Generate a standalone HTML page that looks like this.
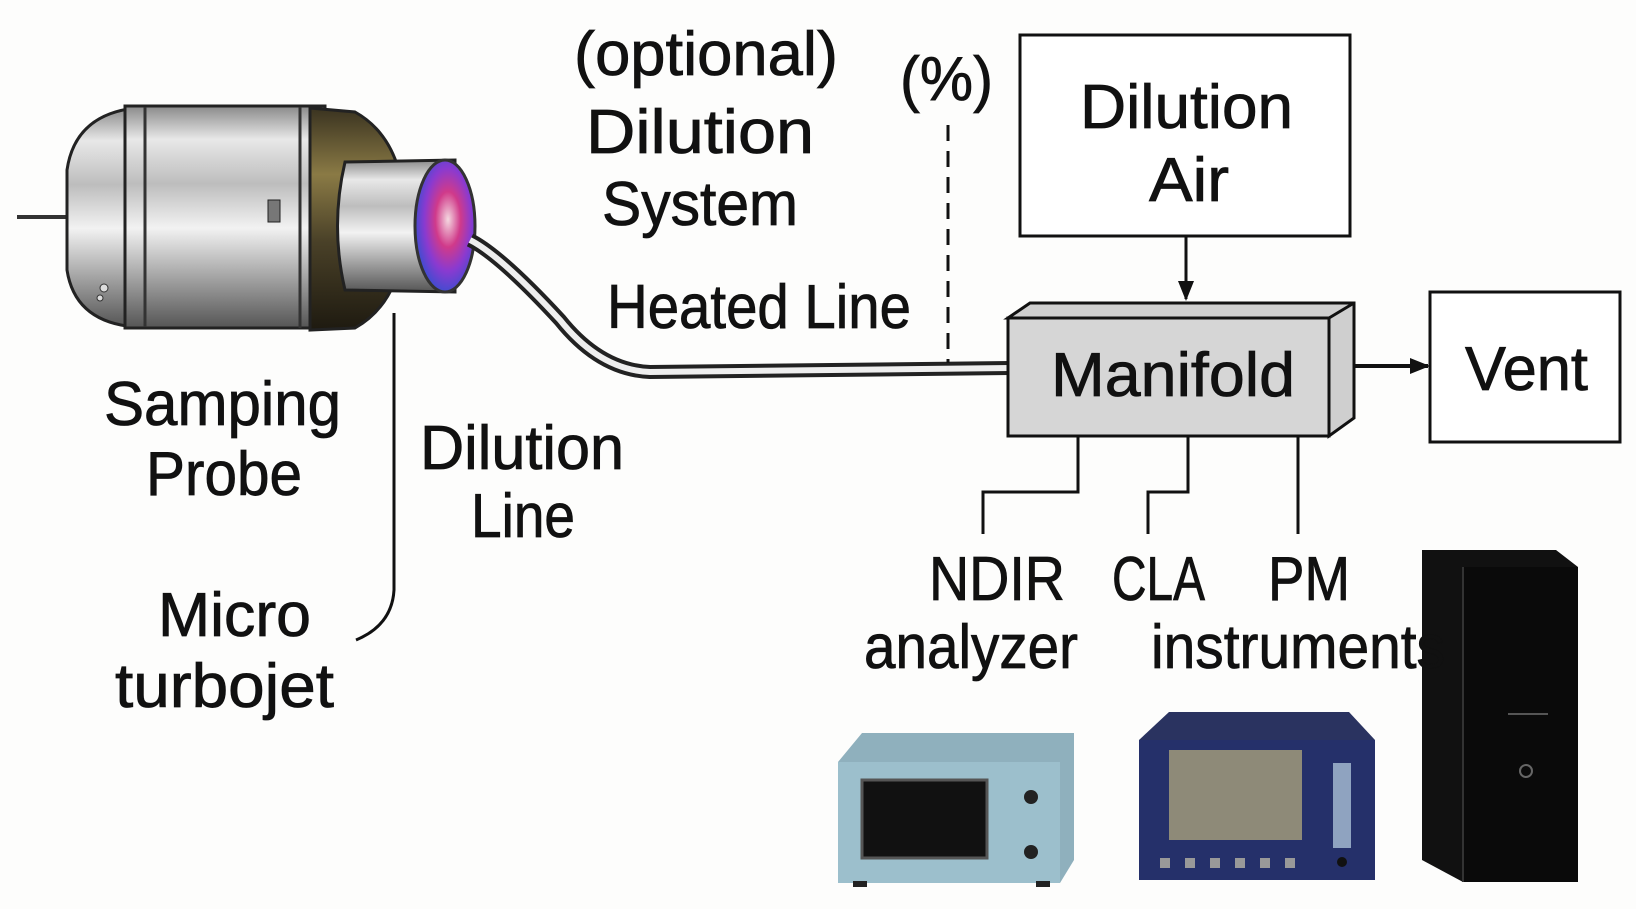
<!DOCTYPE html>
<html><head><meta charset="utf-8"><style>
html,body{margin:0;padding:0;background:#fdfdfc;}
svg{display:block;}
text{font-family:"Liberation Sans Narrow","Liberation Sans",sans-serif;font-size:62px;fill:#111;}
</style></head><body>
<svg width="1636" height="909" viewBox="0 0 1636 909" xmlns="http://www.w3.org/2000/svg">
<defs>
<linearGradient id="metal" x1="0" y1="0" x2="0" y2="1">
<stop offset="0" stop-color="#8a8a8a"/><stop offset="0.15" stop-color="#e8e8e8"/><stop offset="0.35" stop-color="#bdbdbd"/><stop offset="0.55" stop-color="#f2f2f2"/><stop offset="0.8" stop-color="#9a9a9a"/><stop offset="1" stop-color="#555"/>
</linearGradient>
<linearGradient id="gold" x1="0" y1="0" x2="0" y2="1">
<stop offset="0" stop-color="#3a3320"/><stop offset="0.3" stop-color="#8a7a45"/><stop offset="0.6" stop-color="#4a4128"/><stop offset="1" stop-color="#1e1a10"/>
</linearGradient>
<radialGradient id="flame" cx="0.55" cy="0.45" r="0.6">
<stop offset="0" stop-color="#f4d8e0"/><stop offset="0.35" stop-color="#d03a8a"/><stop offset="0.65" stop-color="#8a3ad0"/><stop offset="1" stop-color="#3050d0"/>
</radialGradient>
<marker id="ah" markerWidth="20" markerHeight="20" refX="18" refY="10" orient="auto" markerUnits="userSpaceOnUse"><path d="M0,2 L20,10 L0,18 Z" fill="#111"/></marker>
</defs>

<line x1="17" y1="217" x2="70" y2="217" stroke="#333" stroke-width="4"/>
<path d="M135,108 Q75,115 67,170 L67,270 Q75,322 135,327 Z" fill="url(#metal)" stroke="#222" stroke-width="3"/>
<rect x="125" y="106" width="200" height="222" fill="url(#metal)" stroke="#222" stroke-width="3"/>
<line x1="145" y1="107" x2="145" y2="327" stroke="#333" stroke-width="3"/>
<line x1="300" y1="107" x2="300" y2="328" stroke="#333" stroke-width="3"/>
<rect x="268" y="200" width="12" height="22" fill="#777" stroke="#222"/>
<path d="M310,108 L355,112 Q405,140 405,220 Q405,300 355,328 L310,330 Z" fill="url(#gold)" stroke="#222" stroke-width="3"/>
<path d="M345,162 L455,160 L455,292 L345,290 Q330,226 345,162 Z" fill="url(#metal)" stroke="#222" stroke-width="3"/>
<ellipse cx="445" cy="226" rx="30" ry="66" fill="url(#flame)" stroke="#333" stroke-width="3"/>
<circle cx="104" cy="288" r="4" fill="#ddd" stroke="#333"/>
<circle cx="100" cy="298" r="3" fill="#ddd" stroke="#333"/>

<path d="M470,240 Q500,255 560,320 Q600,370 650,372 L1010,368" fill="none" stroke="#222" stroke-width="14"/>
<path d="M470,240 Q500,255 560,320 Q600,370 650,372 L1010,368" fill="none" stroke="#eee" stroke-width="6"/>
<line x1="948" y1="125" x2="948" y2="363" stroke="#111" stroke-width="3" stroke-dasharray="16,10"/>

<path d="M394,313 L394,590 Q392,625 356,640" fill="none" stroke="#111" stroke-width="3"/>

<rect x="1020" y="35" width="330" height="201" fill="#fff" stroke="#111" stroke-width="3"/>
<line x1="1186" y1="236" x2="1186" y2="299" stroke="#111" stroke-width="3" marker-end="url(#ah)"/>

<path d="M1008,318 L1030,303 L1354,303 L1354,418 L1329,436 L1329,318 Z" fill="#cfcfcf" stroke="#111" stroke-width="3"/>
<rect x="1008" y="318" width="321" height="118" fill="#d6d6d6" stroke="#111" stroke-width="3"/>
<line x1="1329" y1="318" x2="1354" y2="303" stroke="#111" stroke-width="3"/>
<line x1="1354" y1="366" x2="1428" y2="366" stroke="#111" stroke-width="4" marker-end="url(#ah)"/>
<rect x="1430" y="292" width="190" height="150" fill="#fff" stroke="#111" stroke-width="3"/>

<polyline points="1078,436 1078,492 983,492 983,534" fill="none" stroke="#111" stroke-width="3"/>
<polyline points="1188,436 1188,492 1148,492 1148,534" fill="none" stroke="#111" stroke-width="3"/>
<line x1="1298" y1="436" x2="1298" y2="534" stroke="#111" stroke-width="3"/>

<path d="M838,762 L862,733 L1074,733 L1074,860 L1060,883 L1060,762 Z" fill="#8fb0bd"/>
<rect x="838" y="762" width="222" height="121" fill="#9cbfcc"/>
<rect x="862" y="780" width="125" height="78" fill="#111" stroke="#555" stroke-width="3"/>
<circle cx="1031" cy="797" r="7" fill="#222"/><circle cx="1031" cy="852" r="7" fill="#222"/>
<rect x="853" y="881" width="14" height="6" fill="#222"/><rect x="1036" y="881" width="14" height="6" fill="#222"/>

<path d="M1139,740 L1169,712 L1349,712 L1375,740 Z" fill="#2a3360"/>
<rect x="1139" y="740" width="236" height="140" fill="#25306a"/>
<rect x="1169" y="750" width="133" height="90" fill="#8e8a78"/>
<rect x="1333" y="763" width="18" height="85" fill="#8fa3c0"/>
<g fill="#999"><rect x="1160" y="858" width="10" height="10"/><rect x="1185" y="858" width="10" height="10"/><rect x="1210" y="858" width="10" height="10"/><rect x="1235" y="858" width="10" height="10"/><rect x="1260" y="858" width="10" height="10"/><rect x="1285" y="858" width="10" height="10"/></g>
<circle cx="1342" cy="862" r="5" fill="#111"/>

<path d="M1422,550 L1556,550 L1578,567 L1578,882 L1463,882 L1422,860 Z" fill="#111"/>
<rect x="1463" y="567" width="115" height="315" fill="#0a0a0a"/>
<line x1="1463" y1="567" x2="1463" y2="882" stroke="#333" stroke-width="2"/>
<circle cx="1526" cy="771" r="6" fill="none" stroke="#666" stroke-width="2"/>
<line x1="1508" y1="714" x2="1548" y2="714" stroke="#555" stroke-width="2"/>

<g stroke="#111" stroke-width="0.8">
<text x="574" y="75" textLength="264" lengthAdjust="spacingAndGlyphs">(optional)</text>
<text x="586" y="153" textLength="228" lengthAdjust="spacingAndGlyphs">Dilution</text>
<text x="602" y="225" textLength="196" lengthAdjust="spacingAndGlyphs">System</text>
<text x="900" y="100" textLength="93" lengthAdjust="spacingAndGlyphs">(%)</text>
<text x="1080" y="128" textLength="213" lengthAdjust="spacingAndGlyphs">Dilution</text>
<text x="1149" y="201" textLength="80" lengthAdjust="spacingAndGlyphs">Air</text>
<text x="607" y="328" textLength="304" lengthAdjust="spacingAndGlyphs">Heated Line</text>
<text x="1051" y="396" textLength="244" lengthAdjust="spacingAndGlyphs">Manifold</text>
<text x="1465" y="390" textLength="123" lengthAdjust="spacingAndGlyphs">Vent</text>
<text x="104" y="425" textLength="237" lengthAdjust="spacingAndGlyphs">Samping</text>
<text x="146" y="495" textLength="156" lengthAdjust="spacingAndGlyphs">Probe</text>
<text x="420" y="469" textLength="204" lengthAdjust="spacingAndGlyphs">Dilution</text>
<text x="471" y="537" textLength="104" lengthAdjust="spacingAndGlyphs">Line</text>
<text x="158" y="636" textLength="153" lengthAdjust="spacingAndGlyphs">Micro</text>
<text x="115" y="707" textLength="219" lengthAdjust="spacingAndGlyphs">turbojet</text>
<text x="929" y="600" textLength="136" lengthAdjust="spacingAndGlyphs">NDIR</text>
<text x="1112" y="600" textLength="93" lengthAdjust="spacingAndGlyphs">CLA</text>
<text x="1268" y="600" textLength="82" lengthAdjust="spacingAndGlyphs">PM</text>
<text x="864" y="668" textLength="214" lengthAdjust="spacingAndGlyphs">analyzer</text>
<text x="1151" y="668" textLength="294" lengthAdjust="spacingAndGlyphs">instruments</text>
</g>
</svg>
</body></html>
